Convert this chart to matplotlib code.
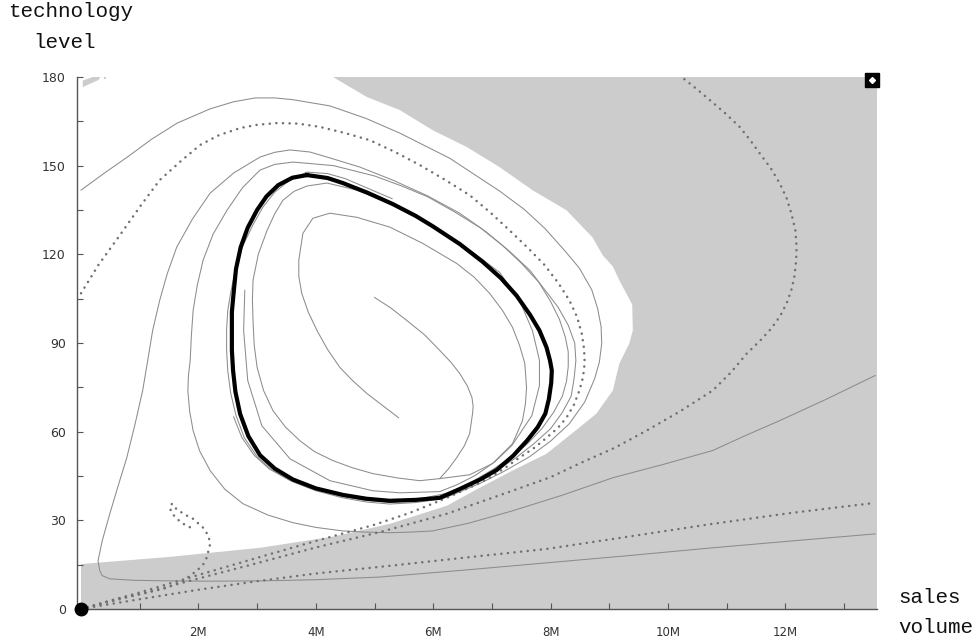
import numpy as np
import matplotlib.pyplot as plt
from matplotlib.ticker import MultipleLocator, FixedLocator

# sales volume in millions, technology level
cycle_x = [3.85, 4.2, 4.46, 4.87, 5.31, 5.7, 5.99, 6.45, 6.84, 7.15, 7.42, 7.65, 7.81, 7.93, 7.99, 8.02, 8.01,
           7.97, 7.91, 7.78, 7.6, 7.36, 7.08, 6.8, 6.5, 6.3, 6.11, 5.7, 5.26, 4.86, 4.46, 4.0, 3.61, 3.3, 3.05,
           2.85, 2.71, 2.63, 2.59, 2.57, 2.57, 2.57, 2.6, 2.64, 2.72, 2.84, 3.0, 3.16, 3.36, 3.6, 3.85]
cycle_y = [146.8, 145.8, 144.1, 140.9, 137.0, 133.0, 129.5, 123.5, 117.5, 112.0, 106.0, 99.5, 94.2, 88.5, 84.0,
           80.7, 76.5, 71.0, 66.1, 61.5, 57.0, 51.8, 47.0, 43.8, 41.0, 39.2, 37.6, 36.9, 36.6, 37.3, 38.6, 40.8,
           43.8, 47.5, 52.0, 58.5, 66.0, 73.5, 80.7, 87.5, 94.2, 100.5, 107.0, 115.0, 122.4, 129.0, 135.0, 139.6,
           143.4, 145.9, 146.8]

# solid trajectories
s1_x = [0, 0.4, 0.79, 1.2, 1.64, 2.2, 2.6, 2.97, 3.3, 3.61, 4.24, 4.85, 5.43, 6.28, 7.13, 7.55, 7.9, 8.25, 8.49,
        8.7, 8.8, 8.86, 8.87, 8.83, 8.75, 8.58, 8.32, 8.0, 7.64, 7.2, 6.79, 6.45, 6.16,
        5.7, 5.26, 4.86, 4.46, 4.0, 3.61, 3.25, 3.0, 2.78, 2.64, 2.55, 2.5, 2.48, 2.48, 2.5, 2.55, 2.63, 2.76,
        2.93, 3.1, 3.3, 3.55, 3.85, 4.2, 4.5, 5.3]
s1_y = [141.7, 147.5, 152.9, 158.9, 164.4, 169.2, 171.6, 172.9, 172.9, 172.3, 170.2, 166.0, 161.0, 152.5, 141.4,
        135.2, 128.8, 121.0, 115.3, 108.0, 101.7, 95.5, 89.8, 83.5, 77.9, 70.0, 62.7, 56.8, 51.5, 46.5, 42.4,
        39.6, 37.3, 36.0, 35.5, 36.2, 37.6, 40.0, 43.0, 47.0, 51.5, 58.0, 65.5, 73.0, 80.5, 87.5, 94.5, 101.0,
        107.0, 115.0, 123.0, 130.0, 136.0, 141.0, 145.0, 147.8, 147.3, 145.6, 138.8]

s2_x = [13.53, 12.1, 10.76, 9.3, 7.93, 6.5, 5.09, 4.0, 3.05, 2.2, 1.51, 0.9, 0.49, 0.36, 0.32, 0.29, 0.36, 0.49,
        0.63, 0.78, 0.92, 1.05, 1.14, 1.22, 1.34, 1.47, 1.63, 1.9, 2.2, 2.6, 3.05, 3.3, 3.56, 3.9, 4.19, 4.75,
        5.31, 5.9, 6.45, 6.9, 7.3, 7.65, 7.9, 8.13, 8.3, 8.41, 8.43, 8.4, 8.35, 8.2, 8.0, 7.72, 7.4, 7.1, 6.8,
        6.5, 6.2, 5.75, 5.3, 4.85, 4.4, 3.95, 3.55, 3.2, 2.95, 2.74, 2.6]
s2_y = [25.4, 23.0, 20.7, 18.0, 15.6, 13.1, 10.8, 9.9, 9.5, 9.4, 9.5, 9.7, 10.2, 11.3, 12.9, 16.3, 23.0, 32.2,
        41.5, 51.2, 62.5, 73.9, 84.5, 94.2, 104.4, 113.5, 122.4, 132.0, 140.7, 147.5, 152.9, 154.5, 155.3,
        154.6, 152.9, 149.5, 145.1, 139.8, 133.9, 127.6, 121.0, 114.5, 108.0, 102.0, 96.0, 90.0, 84.0, 78.0,
        72.0, 66.5, 61.0, 56.0, 51.0, 47.2, 44.0, 41.3, 39.0, 37.2, 36.0, 36.7, 38.3, 40.6, 43.6, 47.5, 52.0,
        58.0, 65.0]

s3_x = [13.53, 12.7, 11.9, 11.3, 10.76, 9.9, 9.06, 8.2, 7.35, 6.6, 5.99, 5.6, 5.26, 4.86, 4.46, 4.0, 3.61, 3.18,
        2.76, 2.45, 2.2, 2.02, 1.91, 1.85, 1.82, 1.83, 1.86, 1.88, 1.91, 1.98, 2.08, 2.25, 2.49, 2.75, 3.05, 3.3,
        3.61, 4.3, 5.0, 5.45, 5.9, 6.35, 6.8, 7.18, 7.5, 7.8, 8.0, 8.15, 8.25, 8.3, 8.3, 8.27, 8.2, 8.05, 7.85,
        7.6, 7.3, 7.0, 6.7, 6.42, 6.15]
s3_y = [79.0, 71.0, 63.7, 58.5, 53.6, 48.8, 44.4, 38.5, 33.2, 29.0, 26.4, 26.0, 25.8, 26.0, 26.4, 27.6, 29.2,
        31.8, 35.6, 40.5, 46.8, 53.5, 60.3, 67.0, 73.9, 79.0, 84.1, 92.5, 101.0, 109.5, 118.0, 126.8, 135.0,
        142.5, 148.5, 150.4, 151.2, 150.0, 146.5, 143.2, 139.5, 134.5, 129.0, 123.0, 117.0, 110.5, 104.0, 98.0,
        92.0, 87.0, 82.0, 77.0, 72.0, 66.5, 61.0, 55.8, 51.0, 47.0, 43.5, 40.8, 38.5]

# inner trajectories spiralling out towards the cycle
i1_x = [5.0, 5.28, 5.55, 5.85, 6.11, 6.3, 6.45, 6.58, 6.66, 6.68, 6.67, 6.62, 6.53, 6.4, 6.26, 6.11, 5.77, 5.4,
        4.97, 4.62, 4.29, 3.98, 3.73, 3.48, 3.27, 3.11, 3.0, 2.95, 2.93, 2.92, 2.93, 3.02, 3.17, 3.3, 3.44, 3.63,
        3.85, 4.19, 4.7, 5.1, 5.55, 6.1, 6.67, 7.13, 7.47, 7.69, 7.81, 7.81, 7.68, 7.34, 7.05, 6.71, 6.4, 6.11,
        5.43, 4.97, 4.24, 3.56, 3.08, 2.84, 2.77, 2.79]
i1_y = [105.4, 101.8, 97.6, 92.8, 87.5, 83.5, 79.7, 75.5, 71.5, 68.6, 66.1, 59.3, 55.2, 51.2, 47.4, 44.1, 43.4,
        44.3, 45.8, 47.8, 50.2, 53.2, 56.9, 61.6, 67.1, 73.9, 81.7, 89.3, 97.6, 104.5, 111.2, 120.0, 128.1,
        133.7, 138.3, 141.3, 143.1, 144.1, 141.7, 138.5, 134.6, 128.3, 120.7, 113.9, 104.4, 94.2, 84.1, 75.6,
        65.4, 55.3, 49.8, 45.1, 42.0, 39.7, 39.3, 40.0, 43.4, 50.8, 62.0, 77.3, 94.2, 107.8]

i2_x = [5.41, 5.14, 4.87, 4.63, 4.41, 4.2, 4.02, 3.87, 3.76, 3.71, 3.71, 3.78, 3.95, 4.24, 4.7, 5.26, 5.82, 6.4,
        6.7, 6.96, 7.18, 7.35, 7.47, 7.56, 7.59, 7.57, 7.52, 7.35, 7.01, 6.62, 6.11]
i2_y = [64.7, 68.8, 72.9, 77.2, 81.7, 87.8, 94.2, 100.5, 106.8, 112.5, 118.0, 127.1, 132.2, 133.9, 132.5, 129.2,
        123.7, 116.9, 112.2, 106.8, 101.0, 95.3, 89.2, 83.1, 74.9, 69.3, 63.7, 55.9, 49.2, 45.4, 44.1]

# dotted trajectories
d1_x = [0, 0.3, 0.66, 1.0, 1.34, 1.7, 2.03, 2.35, 2.71, 3.0, 3.34, 3.7, 4.07, 4.5, 4.92, 5.35, 5.77, 6.2, 6.62,
        6.98, 7.3, 7.62, 7.9, 8.13, 8.32, 8.45, 8.53, 8.57, 8.58, 8.55, 8.49, 8.4, 8.27, 8.12, 7.93, 7.72, 7.47,
        7.22, 6.96, 6.72, 6.5, 6.3, 6.11]
d1_y = [106.8, 116.5, 126.4, 136.0, 145.1, 151.5, 157.0, 160.3, 162.7, 163.8, 164.4, 164.2, 163.1, 161.0, 158.6,
        154.6, 150.2, 145.2, 140.0, 134.0, 128.1, 122.0, 116.3, 110.3, 104.4, 98.8, 93.2, 88.0, 83.1, 78.3, 73.9,
        69.2, 64.7, 61.2, 57.9, 54.5, 51.2, 47.7, 44.4, 42.0, 40.0, 38.2, 36.6]

d2_x = [0, 1.0, 2.0, 3.0, 4.0, 5.09, 6.23, 7.35, 8.0, 8.49, 9.1, 9.63, 10.2, 10.76, 11.07, 11.34, 11.56, 11.76,
        11.91, 12.02, 12.1, 12.15, 12.18, 12.19, 12.17, 12.1, 12.02, 11.9, 11.75, 11.56, 11.4, 11.22, 10.98, 10.71,
        10.47, 10.23]
d2_y = [0, 5.0, 10.3, 15.5, 20.8, 26.0, 32.2, 40.0, 44.6, 49.2, 54.6, 60.3, 66.8, 73.9, 80.0, 86.4, 90.6, 94.9,
        99.1, 103.4, 107.8, 112.2, 117.3, 122.4, 128.0, 133.9, 139.0, 144.1, 149.1, 154.2, 158.6, 163.1, 167.6,
        172.2, 176.2, 180.0]

d3_x = [0, 1.0, 2.0, 3.0, 4.0, 5.26, 6.6, 7.93, 9.3, 10.76, 12.1, 13.53]
d3_y = [0, 3.3, 6.5, 9.4, 12.0, 14.6, 17.5, 20.3, 24.4, 28.8, 32.5, 35.9]

d4_x = [0, 1.0, 2.0, 3.0, 4.0, 5.0, 5.6, 6.11]
d4_y = [0, 5.6, 11.5, 17.3, 23.0, 28.5, 32.5, 36.6]

d5_x = [0, 0.66, 1.1, 1.46, 1.74, 1.97, 2.08, 2.14, 2.2, 2.17, 2.08, 1.91, 1.78, 1.63, 1.55, 1.51, 1.55, 1.63, 1.76,
        1.91]
d5_y = [0, 3.7, 5.4, 7.1, 9.5, 12.9, 15.0, 17.3, 22.0, 24.8, 27.5, 30.5, 31.8, 33.7, 35.6, 34.3, 32.4, 30.5,
        28.6, 27.1]

# boundary of the shaded region (white side on the upper left)
edge_x = [0, 1.5, 3.05, 4.3, 5.26, 6.23, 6.79, 7.35, 7.93, 8.49, 8.78, 9.06, 9.17, 9.34, 9.4, 9.39, 9.17, 9.06,
          8.89, 8.71, 8.27, 7.69, 7.13, 6.57, 5.99, 5.43, 4.87, 4.29]
edge_y = [15.2, 17.6, 20.7, 24.5, 28.8, 34.9, 41.0, 46.8, 52.5, 61.4, 66.1, 73.9, 83.0, 89.8, 94.2, 103.0, 111.2,
          115.9, 119.6, 125.8, 134.9, 141.7, 149.5, 156.3, 162.0, 168.8, 173.2, 180.0]
fleck_x = [0.03, 0.03, 0.2, 0.33, 0.3, 0.1]
fleck_y = [176.5, 178.8, 180.0, 180.0, 179.0, 177.2]

x_ticks = [2, 4, 6, 8, 10, 12]
x_labels = ["2M", "4M", "6M", "8M", "10M", "12M"]
y_ticks = [0, 30, 60, 90, 120, 150, 180]

fig = plt.figure(figsize=(9.75, 6.39), dpi=100)
ax = fig.add_axes([0.079, 0.047, 0.8205, 0.8326])
ax.set_xlim(-0.068, 13.56)
ax.set_ylim(0, 180)

shade_x = edge_x + [13.56, 13.56, 0]
shade_y = edge_y + [180, 0, 0]
ax.fill(shade_x, shade_y, color="#cccccc", lw=0, zorder=0)
ax.fill(fleck_x, fleck_y, color="#cccccc", lw=0, zorder=0)
ax.plot([0.41], [179.5], "s", color="#cccccc", ms=2, mew=0, zorder=0)

solid = dict(color="#8c8c8c", lw=0.75, zorder=2)
for xs, ys in [(s1_x, s1_y), (s2_x, s2_y), (s3_x, s3_y), (i1_x, i1_y), (i2_x, i2_y)]:
    ax.plot(xs, ys, **solid)

dotted = dict(color="#707070", lw=1.8, ls=(0, (0.05, 2.6)), dash_capstyle="round", zorder=3)
for xs, ys in [(d1_x, d1_y), (d2_x, d2_y), (d3_x, d3_y), (d4_x, d4_y), (d5_x, d5_y)]:
    ax.plot(xs, ys, **dotted)

ax.plot(cycle_x, cycle_y, color="black", lw=3, solid_joinstyle="round", zorder=4)

ax.plot([0], [0], "o", color="black", ms=9, clip_on=False, zorder=6)
ax.plot([13.48], [179], "s", color="black", ms=10, clip_on=False, zorder=6)
ax.plot([13.48], [179], "D", color="white", ms=3, clip_on=False, zorder=7)

for side in ["top", "right"]:
    ax.spines[side].set_visible(False)
for side in ["left", "bottom"]:
    ax.spines[side].set_color("#555555")
    ax.spines[side].set_linewidth(1)
ax.spines["left"].set_bounds(0, 180)

ax.xaxis.set_major_locator(FixedLocator(x_ticks))
ax.set_xticklabels(x_labels)
ax.xaxis.set_minor_locator(FixedLocator([1, 3, 5, 7, 9, 11, 13]))
ax.yaxis.set_major_locator(FixedLocator(y_ticks))
ax.yaxis.set_minor_locator(MultipleLocator(15))
ax.tick_params(axis="both", which="both", direction="in", color="#555555", width=0.8, length=4)
ax.tick_params(axis="x", pad=12.5, labelsize=8.5, labelcolor="#333333")
ax.tick_params(axis="y", pad=8, labelsize=9, labelcolor="#333333")

mono = dict(family="Liberation Mono", fontsize=15, color="#111111", va="baseline", ha="left")
fig.text(8 / 975, 1 - 17 / 639, "technology", **mono)
fig.text(33 / 975, 1 - 48 / 639, "level", **mono)
fig.text(898 / 975, 1 - 603 / 639, "sales", **mono)
fig.text(898 / 975, 1 - 633 / 639, "volume", **mono)

fig.savefig("out.png", dpi=100)
